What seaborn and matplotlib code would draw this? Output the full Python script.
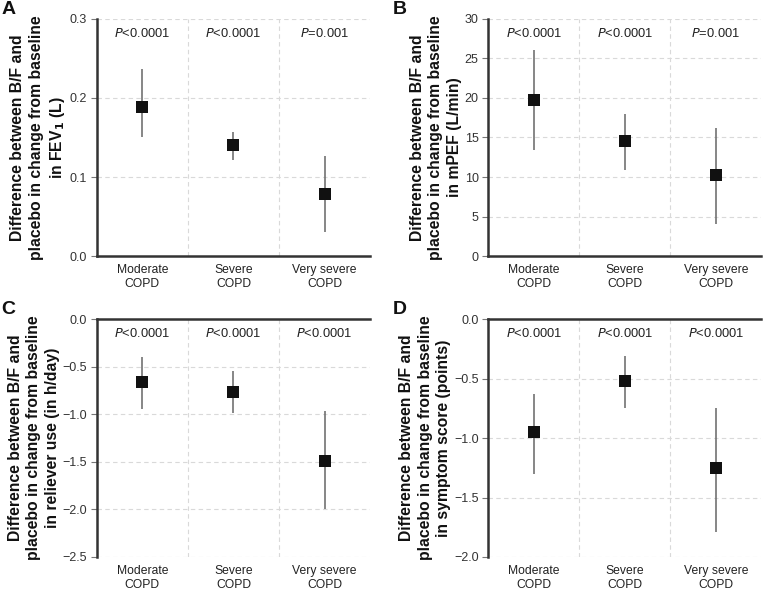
import matplotlib
matplotlib.use("Agg")
import matplotlib.pyplot as plt
import seaborn as sns
import pandas as pd
import numpy as np

categories = ["Moderate\nCOPD", "Severe\nCOPD", "Very severe\nCOPD"]

fev1_est = [0.188, 0.140, 0.079]
fev1_lo = [0.150, 0.121, 0.031]
fev1_hi = [0.236, 0.157, 0.127]
fev1_p = ["<0.0001", "<0.0001", "=0.001"]

mpef_est = [19.8, 14.5, 10.2]
mpef_lo = [13.4, 10.9, 4.1]
mpef_hi = [26.1, 18.0, 16.2]
mpef_p = ["<0.0001", "<0.0001", "=0.001"]

rel_est = [-0.66, -0.77, -1.49]
rel_lo = [-0.94, -0.99, -2.00]
rel_hi = [-0.40, -0.55, -0.97]
rel_p = ["<0.0001", "<0.0001", "<0.0001"]

sym_est = [-0.95, -0.52, -1.25]
sym_lo = [-1.30, -0.75, -1.79]
sym_hi = [-0.63, -0.31, -0.75]
sym_p = ["<0.0001", "<0.0001", "<0.0001"]

sns.set_theme(style="white")
plt.rcParams['font.family'] = ['Liberation Sans', 'DejaVu Sans']

fig = plt.figure(figsize=(7.63, 5.90), dpi=100)

panels = [
    dict(letter="A", pos=[0.127, 0.566, 0.358, 0.402], est=fev1_est, lo=fev1_lo, hi=fev1_hi, p=fev1_p,
         ylim=(0, 0.3), yticks=[0, 0.1, 0.2, 0.3], fmt="{:.1f}", top=False,
         ylabel="Difference between B/F and\nplacebo in change from baseline\nin FEV$_\\mathbf{1}$ (L)"),
    dict(letter="B", pos=[0.640, 0.566, 0.358, 0.402], est=mpef_est, lo=mpef_lo, hi=mpef_hi, p=mpef_p,
         ylim=(0, 30), yticks=[0, 5, 10, 15, 20, 25, 30], fmt="{:.0f}", top=False,
         ylabel="Difference between B/F and\nplacebo in change from baseline\nin mPEF (L/min)"),
    dict(letter="C", pos=[0.127, 0.056, 0.358, 0.403], est=rel_est, lo=rel_lo, hi=rel_hi, p=rel_p,
         ylim=(-2.5, 0), yticks=[0, -0.5, -1.0, -1.5, -2.0, -2.5], fmt="{:.1f}", top=True,
         ylabel="Difference between B/F and\nplacebo in change from baseline\nin reliever use (in h/day)"),
    dict(letter="D", pos=[0.640, 0.056, 0.358, 0.403], est=sym_est, lo=sym_lo, hi=sym_hi, p=sym_p,
         ylim=(-2.0, 0), yticks=[0, -0.5, -1.0, -1.5, -2.0], fmt="{:.1f}", top=True,
         ylabel="Difference between B/F and\nplacebo in change from baseline\nin symptom score (points)"),
]


def fmt_tick(v, fmt):
    s = fmt.format(abs(v))
    return ("\u2212" + s) if v < 0 else s


dark = "#333333"
for pn in panels:
    ax = fig.add_axes(pn["pos"])
    df = pd.DataFrame({"cat": categories, "est": pn["est"], "lo": pn["lo"], "hi": pn["hi"]})
    ax.set_xlim(-0.5, 2.5)
    ax.set_ylim(*pn["ylim"])
    for yt in pn["yticks"]:
        ax.axhline(yt, color="#d9d9d9", lw=0.8, ls=(0, (4, 3)), zorder=0)
    for xv in [0.5, 1.5]:
        ax.axvline(xv, color="#d9d9d9", lw=0.8, ls=(0, (4, 3)), zorder=0)
    ax.vlines(np.arange(len(categories)), df["lo"], df["hi"], color="#666666", lw=1.1, zorder=2)
    sns.scatterplot(data=df, x="cat", y="est", marker="s", s=68, color="#111111",
                    edgecolor="#111111", linewidth=0, ax=ax, zorder=3)
    ax.set_xlim(-0.5, 2.5)
    ax.set_ylim(*pn["ylim"])
    for i, pv in enumerate(pn["p"]):
        ax.text(i, 0.94, "$\\it{P}$" + pv, transform=ax.get_xaxis_transform(),
                ha="center", va="center", fontsize=9.3, color="#222222")
    ax.set_yticks(pn["yticks"])
    ax.set_yticklabels([fmt_tick(v, pn["fmt"]) for v in pn["yticks"]], fontsize=9, color=dark)
    ax.set_xticks(range(3))
    ax.set_xticklabels(categories, fontsize=8.7, color="#222222", linespacing=1.15)
    ax.tick_params(axis="x", length=0, pad=6)
    ax.tick_params(axis="y", length=4, width=0.8, color="#777777", pad=3, left=True)
    ax.set_xlabel("")
    ax.set_ylabel(pn["ylabel"], fontsize=11.3, fontweight="bold", color="#111111",
                  linespacing=1.3, labelpad=2)
    ax.spines["right"].set_visible(False)
    if pn["top"]:
        ax.spines["bottom"].set_visible(False)
        ax.spines["top"].set_visible(True)
        ax.spines["top"].set_color(dark)
        ax.spines["top"].set_linewidth(1.8)
    else:
        ax.spines["top"].set_visible(False)
        ax.spines["bottom"].set_color(dark)
        ax.spines["bottom"].set_linewidth(1.8)
    ax.spines["left"].set_color(dark)
    ax.spines["left"].set_linewidth(1.8)
    fx = pn["pos"][0] - 0.125
    fy = pn["pos"][1] + pn["pos"][3] + 0.03
    fig.text(fx, fy, pn["letter"], fontsize=14, fontweight="bold", color="#111111",
             ha="left", va="top")

fig.savefig("out.png", dpi=100)
